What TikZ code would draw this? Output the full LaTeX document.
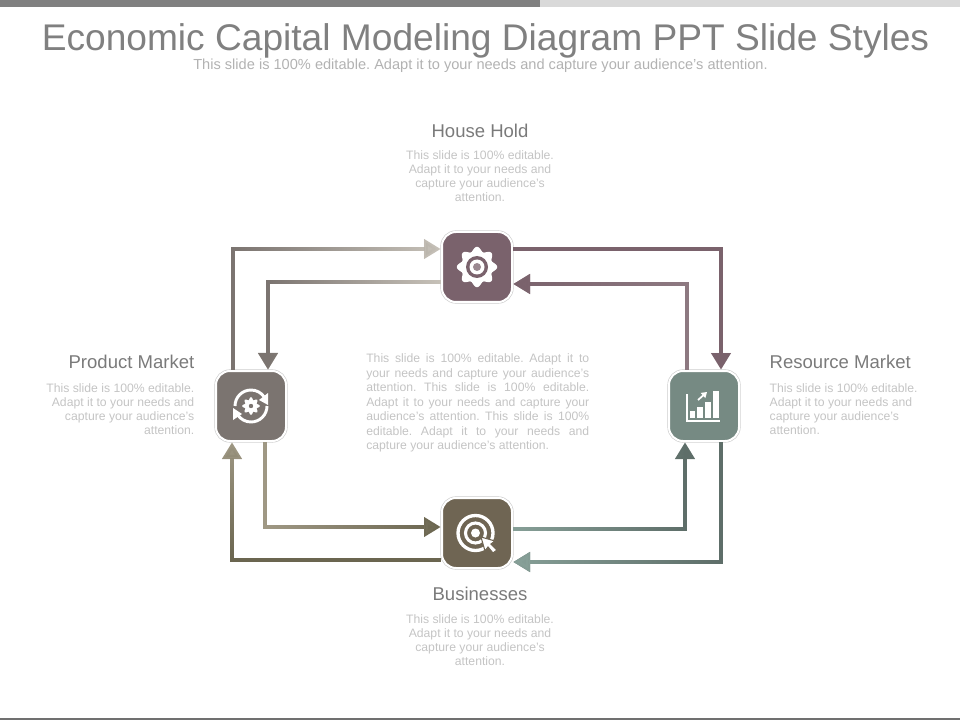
\documentclass[tikz,border=0pt]{standalone}
\usepackage{fontspec}
\usepackage{tikz}
\usetikzlibrary{arrows.meta,fadings}
\setmainfont{Liberation Sans}
\frenchspacing
\definecolor{hhcol}{HTML}{7A626C}
\definecolor{pmcol}{HTML}{7B7470}
\definecolor{rmcol}{HTML}{768A83}
\definecolor{bscol}{HTML}{6F6553}
\definecolor{hhpale}{HTML}{C8C3BA}
\definecolor{bspale}{HTML}{A09985}
\definecolor{bsdark}{HTML}{6A654F}
\definecolor{rmpale}{HTML}{87A098}
\definecolor{rmdark}{HTML}{5E6E69}
\definecolor{headcol}{HTML}{808080}
\definecolor{bodycol}{HTML}{C4C4C4}
\newcommand{\jline}[1]{\makebox[167.25pt][s]{#1}\\}
\tikzset{
  iconbox/.style={minimum size=52.5pt,inner sep=0pt,outer sep=1pt,rounded corners=10.5pt,fill=#1,draw=white,line width=1.5pt,
    preaction={draw=black!20,line width=2.4pt}},
  flow/.style n args={3}{line width=3pt,draw=#1,-{Triangle[width=14.25pt,length=12.5pt]},
    postaction={draw=#2,path fading=#3}},
  heading/.style={text=black!52,font=\fontsize{13.9}{16}\selectfont},
  blurb/.style={text=bodycol,font=\fontsize{9.15}{10.6}\selectfont},
  icon/.style={fill=white,draw=none}
}
\begin{document}
\begin{tikzpicture}[x=0.75pt,y=-0.75pt]
\useasboundingbox (0,0) rectangle (960,720);
\fill[headcol] (0,0) rectangle (540,7);
\fill[black!15] (540,0) rectangle (960,7);
\fill[black!56] (0,718) rectangle (960,720);

\node[text=headcol,font=\fontsize{27.85}{30}\selectfont] (title) at (485.5,41) {Economic Capital Modeling Diagram PPT Slide Styles};
\node[text=black!30,font=\fontsize{10.95}{12}\selectfont] (subtitle) at (480.5,66) {This slide is 100\% editable. Adapt it to your needs and capture your audience's attention.};

\node[iconbox=hhcol] (hh) at (477,267) {};
\node[iconbox=pmcol] (pm) at (251,406) {};
\node[iconbox=rmcol] (rm) at (704,406) {};
\node[iconbox=bscol] (bs) at (477,533) {};

\draw[flow={hhpale}{pmcol}{east}] ([xshift=-13.5pt]pm.north) |- ([yshift=13.5pt]hh.west);
\draw[flow={hhpale}{pmcol}{east}] ([yshift=-11.25pt]hh.west) -| ([xshift=12.75pt]pm.north);
\draw[flow={hhcol}{hhcol}{south}] ([yshift=13.5pt]hh.east) -| ([xshift=12.75pt]rm.north);
\draw[flow={hhcol!85!white}{hhcol}{east}] ([xshift=-12.75pt]rm.north) |- ([yshift=-12.75pt]hh.east);
\draw[flow={rmdark}{rmpale}{east}] ([xshift=12.75pt]rm.south) |- ([yshift=-21.75pt]bs.east);
\draw[flow={rmdark}{rmpale}{east}] ([yshift=3pt]bs.east) -| ([xshift=-14.25pt]rm.south);
\draw[flow={bspale}{bsdark}{north}] ([yshift=-20.25pt]bs.west) -| ([xshift=-14.25pt]pm.south);
\draw[flow={bsdark}{bspale}{east}] ([xshift=10.5pt]pm.south) |- ([yshift=4.5pt]bs.west);

\node[heading] (hhhead) at (480,131) {House Hold};
\node[blurb,align=center] (hhtext) at (480,176) {This slide is 100\% editable.\\Adapt it to your needs and\\capture your audience's\\attention.};
\node[heading,anchor=east] (pmhead) at (199,362) {Product Market};
\node[blurb,align=right,anchor=north east] (pmtext) at (199,379) {This slide is 100\% editable.\\Adapt it to your needs and\\capture your audience's\\attention.};
\node[heading,anchor=west] (rmhead) at (765,362) {Resource Market};
\node[blurb,align=left,anchor=north west] (rmtext) at (765,379) {This slide is 100\% editable.\\Adapt it to your needs and\\capture your audience's\\attention.};
\node[heading] (bshead) at (480,594) {Businesses};
\node[blurb,align=center] (bstext) at (480,640) {This slide is 100\% editable.\\Adapt it to your needs and\\capture your audience's\\attention.};
\node[blurb,font=\fontsize{9.15}{10.9}\selectfont,inner sep=0pt,align=left,anchor=north west] (midtext) at (366,353.5) {\jline{This slide is 100\% editable. Adapt it to}\jline{your needs and capture your audience's}\jline{attention. This slide is 100\% editable.}\jline{Adapt it to your needs and capture your}\jline{audience's attention. This slide is 100\%}\jline{editable. Adapt it to your needs and}capture your audience's attention.};

% gear
\fill[icon,shift={(hh.center)}] plot[domain=0:360,samples=97,smooth] (\x:{18+2.2*cos(8*\x)}) -- cycle;
\fill[hhcol] (hh.center) circle (11);
\fill[white] (hh.center) circle (7.5);
\fill[hhcol!75!white] (hh.center) circle (4);

% turning arrows
\draw[white,line width=2.2pt] (235,406) arc (180:325:16);
\draw[white,line width=2.2pt] (267,406) arc (0:145:16);
\fill[icon] (268,393) -- (268,405) -- (259,400) -- cycle;
\fill[icon] (233,408) -- (233,420) -- (242,414) -- cycle;
\fill[icon,shift={(pm.center)}] plot[domain=0:360,samples=97,smooth] (\x:{7.5+1.3*cos(8*\x)}) -- cycle;
\fill[pmcol] (pm.center) circle (2.2);

% chart
\draw[white,line width=1.3pt] (687,394) -- (687,421) -- (720,421);
\foreach \a/\b/\c in {690/695/411,697/703/407,705/711/402,713/718.5/391}
  \fill[icon] (\a,\c) rectangle (\b,418);
\draw[white,line width=1.3pt,-{Triangle[width=5pt,length=4pt]}] (698,400) -- (707,392);

% target
\draw[white,line width=2.5pt] (475.5,533) circle (17.5);
\draw[white,line width=2.3pt] (475.5,533) circle (10);
\fill[icon] (475.5,533) circle (4.5);
\filldraw[fill=white,draw=bscol,line width=0.8pt] (481,537) -- (495,541) -- (491,544) -- (497,550) -- (493,553) -- (488,547) -- (485,551) -- cycle;
\end{tikzpicture}
\end{document}
